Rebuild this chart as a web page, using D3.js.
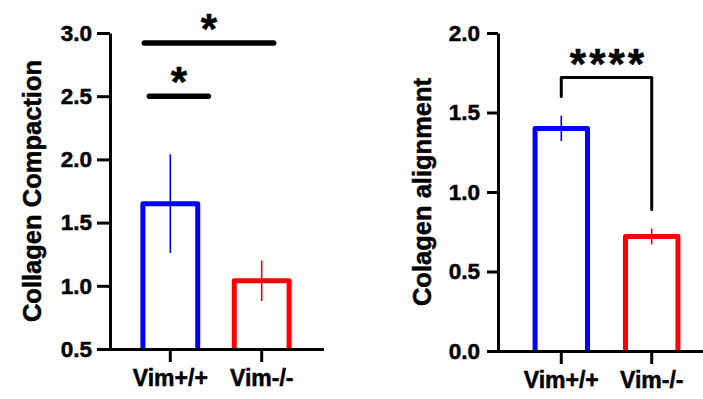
<!DOCTYPE html>
<html>
<head>
<meta charset="utf-8">
<script src="https://cdn.jsdelivr.net/npm/d3@7"></script>
<style>
  body { margin: 0; background: #fff; }
  svg { display: block; font-family: "Liberation Sans", Arial, sans-serif; font-weight: bold; }
  svg text { stroke: #000; stroke-width: 0.5px; }
</style>
</head>
<body>
<svg width="703" height="399"></svg>
<script>
"use strict";

const groups = ["Vim+/+", "Vim-/-"];
const groupColors = ["#0000ff", "#ff0000"];

// collagen compaction, mean and sd per genotype
const compactionMean = [1.65, 1.04];
const compactionErr = [0.39, 0.16];
const compactionTicks = [0.5, 1.0, 1.5, 2.0, 2.5, 3.0];

// collagen alignment, mean and sd per genotype
const alignMean = [1.40, 0.72];
const alignErr = [0.08, 0.05];
const alignTicks = [0.0, 0.5, 1.0, 1.5, 2.0];

const svg = d3.select("svg");

const panel = opts => {
  const g = svg.append("g");

  const x = d3
    .scaleBand()
    .domain(groups)
    .range(opts.xRange)
    .paddingInner(opts.padInner)
    .paddingOuter(opts.padOuter);

  const y = d3
    .scaleLinear()
    .domain(opts.yDomain)
    .range(opts.yRange);

  const data = groups.map((name, i) => ({
    name,
    mean: opts.mean[i],
    err: opts.err[i],
    color: groupColors[i]
  }));

  // open-bottom bars
  g.selectAll("path.bar")
    .data(data)
    .enter()
    .append("path")
    .attr("class", "bar")
    .attr("d", d => {
      const x0 = x(d.name);
      const x1 = x0 + x.bandwidth();
      const top = y(d.mean);
      const base = y(opts.yDomain[0]);
      return `M${x0},${base}V${top}H${x1}V${base}`;
    })
    .attr("fill", "none")
    .attr("stroke", d => d.color)
    .attr("stroke-width", 5)
    .attr("stroke-linejoin", "round");

  g.selectAll("line.err")
    .data(data)
    .enter()
    .append("line")
    .attr("class", "err")
    .attr("x1", d => x(d.name) + x.bandwidth() / 2)
    .attr("x2", d => x(d.name) + x.bandwidth() / 2)
    .attr("y1", d => y(d.mean + d.err))
    .attr("y2", d => y(d.mean - d.err))
    .attr("stroke", d => d.color)
    .attr("stroke-width", 1.6);

  const yAxis = d3
    .axisLeft(y)
    .tickValues(opts.ticks)
    .tickFormat(d3.format(".1f"))
    .tickSize(opts.yTickSize)
    .tickSizeOuter(0)
    .tickPadding(opts.yTickPad);

  const yAxisG = g
    .append("g")
    .attr("transform", `translate(${opts.xRange[0]},0)`)
    .call(yAxis);

  const xAxis = d3
    .axisBottom(x)
    .tickSize(13)
    .tickSizeOuter(0)
    .tickPadding(8);

  const xAxisG = g
    .append("g")
    .attr("transform", `translate(0,${opts.yRange[0]})`)
    .call(xAxis);

  [yAxisG, xAxisG].forEach(a => {
    a.selectAll(".domain, .tick line")
      .attr("stroke", "#000")
      .attr("stroke-width", 3);
    a.selectAll("text")
      .attr("fill", "#000")
      .style("font-size", "22.5px")
      .style("font-family", "inherit")
      .style("font-weight", "bold");
  });
  xAxisG.selectAll("text").style("font-size", "23px");
  xAxisG.select(".domain").attr("stroke-linecap", "square");

  g.append("text")
    .attr("transform", `translate(${opts.labelX},${opts.labelY}) rotate(-90)`)
    .attr("text-anchor", "middle")
    .style("font-size", "25.5px")
    .text(opts.yLabel);

  return { g, x, y };
};

// left panel: collagen compaction
const left = panel({
  xRange: [110, 322],
  padInner: 0.4,
  padOuter: 0.36,
  yDomain: [0.5, 3.0],
  yRange: [349, 33],
  mean: compactionMean,
  err: compactionErr,
  ticks: compactionTicks,
  yTickSize: 13,
  yTickPad: 5,
  yLabel: "Collagen Compaction",
  labelX: 41,
  labelY: 191
});

const cx = (p, i) => p.x(groups[i]) + p.x.bandwidth() / 2;

const sigLine = (p, xa, xb, v, label, dy) => {
  p.g.append("line")
    .attr("x1", xa)
    .attr("x2", xb)
    .attr("y1", p.y(v))
    .attr("y2", p.y(v))
    .attr("stroke", "#000")
    .attr("stroke-width", 5.5)
    .attr("stroke-linecap", "round");
  p.g.append("text")
    .attr("x", (xa + xb) / 2)
    .attr("y", p.y(v) + dy)
    .attr("text-anchor", "middle")
    .style("font-size", "42px")
    .text(label);
};

sigLine(left, cx(left, 0) - 26, cx(left, 1) + 12, 2.92, "*", 0);
sigLine(left, cx(left, 0) - 21, cx(left, 0) + 38, 2.5, "*", 0);

// right panel: collagen alignment
const right = panel({
  xRange: [498, 715],
  padInner: 0.42,
  padOuter: 0.41,
  yDomain: [0, 2.0],
  yRange: [351, 33],
  mean: alignMean,
  err: alignErr,
  ticks: alignTicks,
  yTickSize: 11,
  yTickPad: 7,
  yLabel: "Colagen alignment",
  labelX: 431,
  labelY: 192
});

// bracket between the two genotypes
const bx0 = cx(right, 0);
const bx1 = cx(right, 1);
right.g.append("path")
  .attr("d", `M${bx0},${right.y(1.60)}V${right.y(1.72)}H${bx1}V${right.y(0.89)}`)
  .attr("fill", "none")
  .attr("stroke", "#000")
  .attr("stroke-width", 3)
  .attr("stroke-linejoin", "round")
  .attr("stroke-linecap", "round");

right.g.append("text")
  .attr("x", (bx0 + bx1) / 2 + 2)
  .attr("y", right.y(1.72))
  .attr("text-anchor", "middle")
  .attr("letter-spacing", 3)
  .style("font-size", "42px")
  .text("****");
</script>
</body>
</html>
